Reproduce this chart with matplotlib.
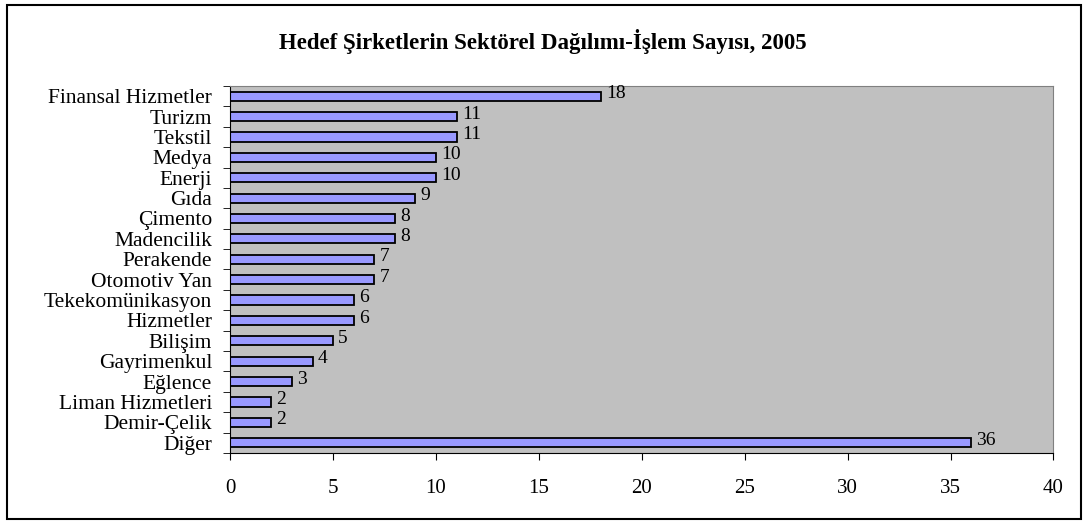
import matplotlib.pyplot as plt
from matplotlib.patches import Rectangle

# Datos
sektorler = ["Finansal Hizmetler", "Turizm", "Tekstil", "Medya", "Enerji", "Gıda",
             "Çimento", "Madencilik", "Perakende", "Otomotiv Yan", "Tekekomünikasyon",
             "Hizmetler", "Bilişim", "Gayrimenkul", "Eğlence", "Liman Hizmetleri",
             "Demir-Çelik", "Diğer"]
islem_sayisi = [18, 11, 11, 10, 10, 9, 8, 8, 7, 7, 6, 6, 5, 4, 3, 2, 2, 36]
x_ticks = [0, 5, 10, 15, 20, 25, 30, 35, 40]

plt.rcParams["font.family"] = ["Liberation Serif", "DejaVu Serif"]

fig = plt.figure(figsize=(10.86, 5.24), dpi=100)
ax = fig.add_axes([0.212, 0.1355, 0.758, 0.7005])

# marco exterior
fig.patches.append(Rectangle((0.006, 0.01), 0.989, 0.98, transform=fig.transFigure,
                             fill=False, edgecolor="black", linewidth=1.5))

n = len(sektorler)
pos = list(range(n))[::-1]
ax.barh(pos, islem_sayisi, height=0.45, color="#9999FF", edgecolor="black", linewidth=1.3)

for p, v in zip(pos, islem_sayisi):
    ax.text(v + 0.25, p + 0.12, str(v), va="center", ha="left", fontsize=14)

ax.set_facecolor("#C0C0C0")
ax.set_xlim(0, 40)
ax.set_ylim(-0.5, n - 0.5)
ax.set_xticks(x_ticks)
ax.set_xticklabels([str(t) for t in x_ticks], fontsize=15)
ax.set_yticks(pos)
ax.set_yticklabels(sektorler, fontsize=15.5)
ax.tick_params(axis="y", length=0, pad=13)
ax.set_yticks([i - 0.5 for i in range(n + 1)], minor=True)
ax.tick_params(axis="y", which="minor", length=5, direction="out", color="black")
ax.tick_params(axis="x", length=5, direction="out", pad=14)

for s in ["top", "right"]:
    ax.spines[s].set_color("#808080")
ax.spines["left"].set_color("black")
ax.spines["bottom"].set_color("black")

fig.text(0.5, 0.92, "Hedef Şirketlerin Sektörel Dağılımı-İşlem Sayısı, 2005",
         ha="center", va="center", fontsize=16.5, fontweight="bold")

plt.savefig("out.png", dpi=100)
plt.close()
